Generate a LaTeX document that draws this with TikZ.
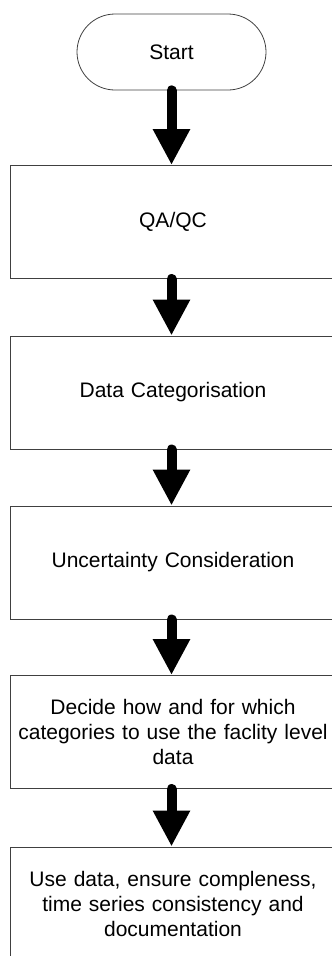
\documentclass[tikz,border=0pt]{standalone}
\usepackage{fontspec}
\setmainfont{Liberation Sans}
\usetikzlibrary{arrows.meta}
\begin{document}
\begin{tikzpicture}[x=1pt,y=-1pt,
  box/.style={draw=black!75, line width=1pt, minimum width=326pt, minimum height=113pt,
    inner sep=0pt, text width=310pt, align=center, font=\fontsize{21}{25}\selectfont},
  term/.style={draw=black!75, line width=0.8pt, rounded corners=38pt, minimum width=189pt,
    minimum height=76pt, inner sep=0pt, font=\fontsize{21}{25}\selectfont},
  flow/.style={line width=10pt, line cap=round, -{Triangle[width=35pt,length=36pt]}}]
\useasboundingbox (0,0) rectangle (332,956);
\node[term] (start) at (171.5,52) {Start};
\node[box] (b1) at (173,222) {QA/QC};
\node[box] (b2) at (173,392.5) {Data Categorisation};
\node[box] (b3) at (173,562.5) {Uncertainty Consideration};
\node[box] (b4) at (173,732) {Decide how and for which\\categories to use the faclity level\\data};
\node[box] (b5) at (173,903.5) {Use data, ensure compleness,\\time series consistency and\\documentation};
\draw[flow] (start.south) -- (start.south |- b1.north);
\draw[flow] (start.south |- b1.south) -- (start.south |- b2.north);
\draw[flow] (start.south |- b2.south) -- (start.south |- b3.north);
\draw[flow] (start.south |- b3.south) -- (start.south |- b4.north);
\draw[flow] (start.south |- b4.south) -- (start.south |- b5.north);
\end{tikzpicture}
\end{document}
